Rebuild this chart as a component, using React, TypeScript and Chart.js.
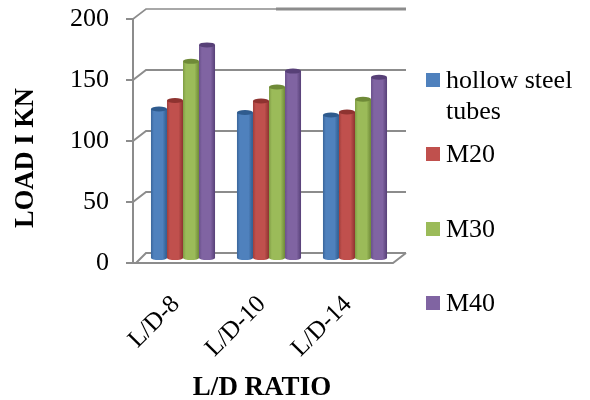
import React, { useEffect, useRef } from "react";
import { Chart, registerables } from "chart.js";

Chart.register(...registerables);

const categories = ["L/D-8", "L/D-10", "L/D-14"];
const hollowSteelTubes = [123, 120, 118];
const m20 = [130, 129.5, 120.5];
const m30 = [162, 141, 131];
const m40 = [175.5, 154, 149];
const yTicks = [0, 50, 100, 150, 200];
const seriesNames = ["hollow steel tubes", "M20", "M30", "M40"];
const legendLines = [["hollow steel", "tubes"], ["M20"], ["M30"], ["M40"]];
const colors = ["#4F81BD", "#C0504D", "#9BBB59", "#8064A2"];
const darkColors = ["#2F5B8E", "#8E3330", "#6F8A38", "#574077"];
const edgeColors = ["#3A659A", "#A03E3B", "#7F9C44", "#684F8A"];
const seriesValues = [hollowSteelTubes, m20, m30, m40];
const yAxisTitle = "LOAD I KN";

const GRID = "#8C8C8C";
const FONT = "'Liberation Serif'";
const DX = 13;
const DY = 10;

const wallPlugin = {
  id: "wall",
  beforeDatasetsDraw(chart: any) {
    const { ctx, scales, chartArea } = chart;
    const y = scales.y;
    ctx.save();
    ctx.strokeStyle = GRID;
    yTicks.forEach((v) => {
      const py = y.getPixelForValue(v);
      ctx.lineWidth = v === 200 ? 1.6 : 2;
      ctx.beginPath();
      ctx.moveTo(chartArea.left + (v === 0 ? 3 : 0), py);
      ctx.lineTo(chartArea.left + DX, py - DY);
      ctx.lineTo(chartArea.right + DX + 2, py - DY);
      ctx.stroke();
      if (v === 200) {
        ctx.lineWidth = 3;
        ctx.beginPath();
        ctx.moveTo(276, py - DY);
        ctx.lineTo(chartArea.right + DX + 2, py - DY);
        ctx.stroke();
      }
    });
    ctx.lineWidth = 2;
    const py0 = y.getPixelForValue(0);
    ctx.beginPath();
    ctx.moveTo(chartArea.left, py0);
    ctx.lineTo(chartArea.right + 2, py0);
    ctx.lineTo(chartArea.right + DX + 2, py0 - DY);
    ctx.stroke();
    ctx.restore();
  },
};

const cylinderPlugin = {
  id: "cylinder",
  beforeDatasetsDraw(chart: any) {
    chart.ctx.save();
    chart.ctx.translate(7, -4);
  },
  beforeDatasetDraw(chart: any, args: any) {
    const { ctx } = chart;
    const i = args.index;
    const meta = args.meta;
    meta.data.forEach((bar: any) => {
      const left = bar.x - bar.width / 2;
      const right = bar.x + bar.width / 2;
      const g = ctx.createLinearGradient(left, 0, right, 0);
      g.addColorStop(0, edgeColors[i]);
      g.addColorStop(0.18, colors[i]);
      g.addColorStop(0.72, colors[i]);
      g.addColorStop(1, darkColors[i]);
      bar.options = { ...bar.options, backgroundColor: g };
      ctx.fillStyle = g;
      ctx.beginPath();
      ctx.ellipse(bar.x, bar.base, bar.width / 2, 2, 0, 0, Math.PI * 2);
      ctx.fill();
    });
  },
  afterDatasetDraw(chart: any, args: any) {
    const { ctx } = chart;
    const i = args.index;
    args.meta.data.forEach((bar: any) => {
      ctx.fillStyle = darkColors[i];
      ctx.beginPath();
      ctx.ellipse(bar.x, bar.y, bar.width / 2, 2.5, 0, 0, Math.PI * 2);
      ctx.fill();
    });
  },
  afterDatasetsDraw(chart: any) {
    chart.ctx.restore();
  },
};

const textPlugin = {
  id: "sideText",
  afterDraw(chart: any) {
    const { ctx } = chart;
    const x = 426;
    const rowTops = [73, 147, 222, 296];
    ctx.save();
    ctx.font = `26px ${FONT}`;
    ctx.textBaseline = "middle";
    ctx.textAlign = "left";
    legendLines.forEach((lines, i) => {
      ctx.fillStyle = colors[i];
      ctx.fillRect(x, rowTops[i], 14, 14);
      ctx.fillStyle = "#000";
      lines.forEach((line, k) => ctx.fillText(line, x + 20, rowTops[i] + 8 + k * 31));
    });
    ctx.translate(26, 158);
    ctx.rotate(-Math.PI / 2);
    ctx.textAlign = "center";
    ctx.font = `bold 26.5px ${FONT}`;
    ctx.fillText(yAxisTitle, 0, 0);
    ctx.restore();
  },
};

export default function App() {
  const ref = useRef<HTMLCanvasElement>(null);
  useEffect(() => {
    const chart = new Chart(ref.current as HTMLCanvasElement, {
      type: "bar",
      data: {
        labels: categories,
        datasets: seriesNames.map((name, i) => ({
          label: name,
          data: seriesValues[i],
          backgroundColor: colors[i],
          borderWidth: 0,
          categoryPercentage: 0.745,
          barPercentage: 1,
        })),
      },
      options: {
        responsive: false,
        animation: false,
        layout: { padding: { top: 19, right: 199, bottom: -4, left: 0 } },
        plugins: { legend: { display: false }, tooltip: { enabled: false } },
        scales: {
          x: {
            grid: { display: false },
            border: { display: false },
            afterFit: (s: any) => {
              s.height = 141;
              s.paddingLeft = 0;
              s.paddingRight = 0;
            },
            ticks: {
              maxRotation: 45,
              minRotation: 45,
              color: "#000",
              padding: 19,
              font: { family: "Liberation Serif", size: 25 },
            },
            title: {
              display: true,
              text: "L/D RATIO",
              color: "#000",
              padding: { top: 0, bottom: 0 },
              font: { family: "Liberation Serif", size: 27, weight: "bold" },
            },
          },
          y: {
            min: 0,
            max: 200,
            afterFit: (s: any) => {
              s.width = 133;
              s.paddingTop = 0;
              s.paddingBottom = 0;
            },
            grid: {
              drawOnChartArea: false,
              drawTicks: true,
              tickLength: 7,
              color: GRID,
              lineWidth: 2,
            },
            border: { display: true, color: GRID, width: 2 },
            ticks: {
              stepSize: 50,
              color: "#000",
              padding: 17,
              font: { family: "Liberation Serif", size: 26 },
            },
          },
        },
      },
      plugins: [wallPlugin, cylinderPlugin, textPlugin],
    } as any);
    return () => chart.destroy();
  }, []);
  return (
    <div style={{ position: "fixed", left: 0, top: 0, width: 590, height: 400, background: "#fff" }}>
      <canvas ref={ref} width={590} height={400} style={{ display: "block" }} />
    </div>
  );
}
